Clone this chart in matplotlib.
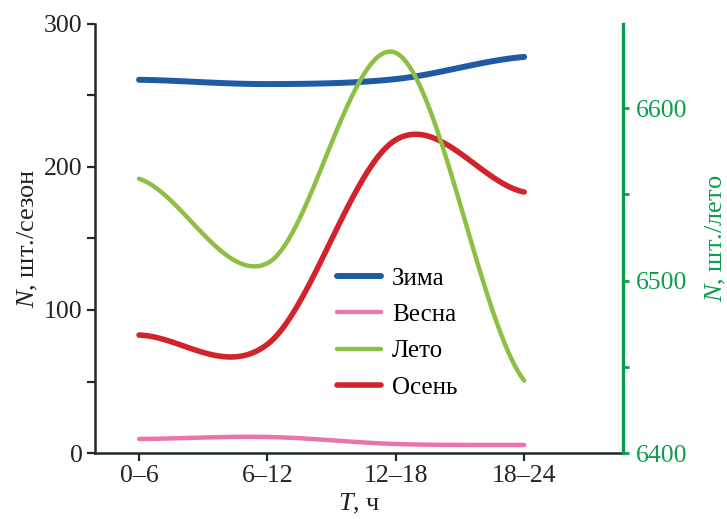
import numpy as np
import matplotlib
matplotlib.use("Agg")
import matplotlib.pyplot as plt
from matplotlib.ticker import MultipleLocator

plt.rcParams['font.family'] = ['Liberation Serif', 'DejaVu Serif']
plt.rcParams['mathtext.fontset'] = 'custom'
plt.rcParams['mathtext.it'] = 'Liberation Serif:italic'
plt.rcParams['mathtext.rm'] = 'Liberation Serif'

# data
periods = ["0–6", "6–12", "12–18", "18–24"]
zima = [261, 258, 261.5, 277]
vesna = [9.8, 11.2, 6.3, 5.6]
osen = [82.5, 76, 219, 182.5]
leto = [6559, 6510, 6632, 6442]   # right axis


def smooth(y, n=40):
    # Catmull-Rom curve through the points (like "smoothed line" in a spreadsheet)
    y = np.asarray(y, float)
    ext = np.concatenate([[y[0]], y, [y[-1]]])
    xs, ys = [], []
    for i in range(len(y) - 1):
        p0, p1, p2, p3 = ext[i], ext[i + 1], ext[i + 2], ext[i + 3]
        m1 = (p2 - p0) / 2
        m2 = (p3 - p1) / 2
        t = np.linspace(0, 1, n, endpoint=(i == len(y) - 2))
        h = ((2 * t**3 - 3 * t**2 + 1) * p1 + (t**3 - 2 * t**2 + t) * m1
             + (-2 * t**3 + 3 * t**2) * p2 + (t**3 - t**2) * m2)
        xs.append(i + t)
        ys.append(h)
    return np.concatenate(xs), np.concatenate(ys)


fig = plt.figure(figsize=(7.27, 5.19), dpi=100)
ax = fig.add_axes([95 / 727, 1 - 453 / 519, (623 - 95) / 727, (453 - 24) / 519])
ax2 = ax.twinx()

dark = '#1e2b2b'
green_ax = '#0a9e4b'

x, y = smooth(zima)
ax.plot(x, y, color='#1f5aa6', lw=4.3, solid_capstyle='round', label='Зима')
x, y = smooth(vesna)
ax.plot(x, y, color='#ea74ae', lw=3.2, solid_capstyle='round', label='Весна')
x, y = smooth(osen)
ax.plot(x, y, color='#d2232a', lw=4.0, solid_capstyle='round', label='Осень')
x, y = smooth(leto)
ax2.plot(x, y, color='#8dbf45', lw=3.2, solid_capstyle='round', label='Лето')

ax.set_xlim(-0.343, 3.77)
ax.set_ylim(0, 300)
ax2.set_ylim(6400, 6648.7)

ax.set_xticks(range(len(periods)))
ax.set_xticklabels(periods)
ax.set_yticks([0, 100, 200, 300])
ax.yaxis.set_minor_locator(MultipleLocator(50))
ax2.set_yticks([6400, 6500, 6600])
ax2.yaxis.set_minor_locator(MultipleLocator(50))

for s in ['top', 'right']:
    ax.spines[s].set_visible(False)
for s in ['top', 'left', 'bottom']:
    ax2.spines[s].set_visible(False)
ax.spines['left'].set_color(dark)
ax.spines['left'].set_linewidth(1.8)
ax.spines['bottom'].set_color(dark)
ax.spines['bottom'].set_linewidth(1.8)
ax2.spines['right'].set_color(green_ax)
ax2.spines['right'].set_linewidth(2.4)

ax.tick_params(axis='both', which='major', direction='out', length=6, width=1.6,
               color=dark, labelsize=18.5, labelcolor='#222222', pad=3)
ax.tick_params(axis='y', which='minor', direction='out', length=6, width=1.6, color=dark)
ax2.tick_params(axis='y', which='both', direction='out', length=4, width=2,
                color=green_ax, labelsize=18.5, labelcolor=green_ax, pad=5)

ax.set_ylabel('$N$, шт./сезон', fontsize=19, color='#222222', labelpad=3)
ax.set_xlabel('$T$, ч', fontsize=19, color='#222222', labelpad=3)
ax2.set_ylabel('$N$, шт./лето', fontsize=19, color=green_ax, labelpad=12)

h1, l1 = ax.get_legend_handles_labels()
h2, l2 = ax2.get_legend_handles_labels()
handles = [h1[0], h1[1], h2[0], h1[2]]
labels = [l1[0], l1[1], l2[0], l1[2]]
fig.legend(handles, labels, loc='center left', bbox_to_anchor=(337 / 727, 1 - 333 / 519),
           frameon=False, fontsize=18, handlelength=1.75, handletextpad=0.45,
           labelspacing=0.55, borderpad=0, borderaxespad=0)

fig.savefig('out.png', dpi=100)
